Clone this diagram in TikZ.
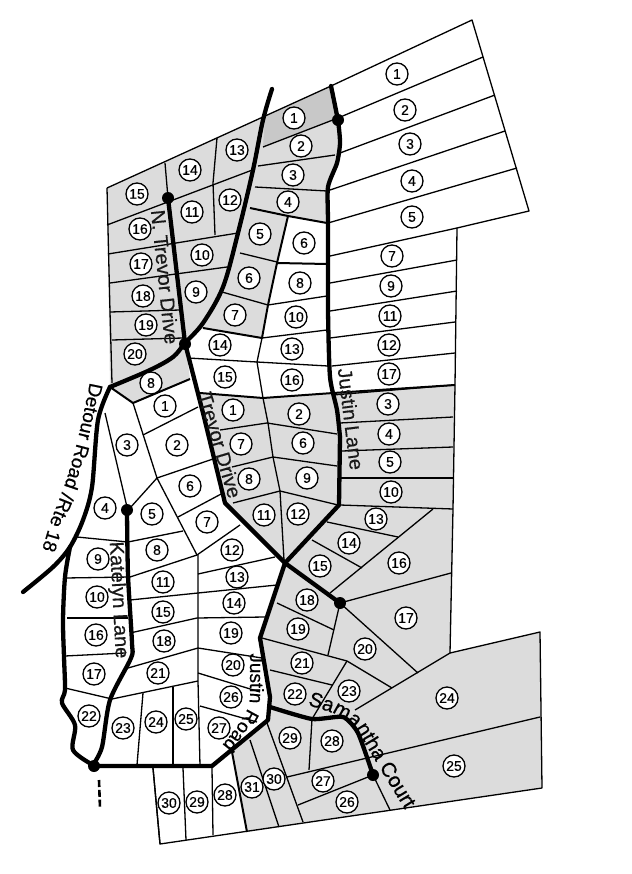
\documentclass[tikz,border=0pt]{standalone}
\usepackage{fontspec}
\setmainfont{Liberation Sans}
\newfontfamily\roadfont[FakeBold=0.5]{Liberation Sans}
\newfontfamily\numfont[FakeBold=0.3]{Liberation Sans}
\usetikzlibrary{decorations.text}
\definecolor{lotgrey}{HTML}{DCDCDC}
\definecolor{lotdark}{HTML}{C8C8C8}
\tikzset{
  lotline/.style={line width=1.3pt,black,line join=round},
  lotheavy/.style={line width=2pt,black,line join=round},
  roadline/.style={line width=4.3pt,black,line join=round,line cap=round},
  roaddot/.style={circle,fill=black,inner sep=0pt,minimum size=12pt},
  lotnum/.style={circle,draw=black,line width=1.3pt,fill=white,inner sep=0pt,minimum size=22pt,font=\numfont\fontsize{14}{15}\selectfont},
  roadname/.style={inner sep=0pt,text=black!90,font=\roadfont\fontsize{20}{22}\selectfont},
  alongroad/.style={decorate,decoration={text along path,text align=center,text={#1}}}
}
\begin{document}
\begin{tikzpicture}[x=1pt,y=-1pt]
\useasboundingbox (0,0) rectangle (631,874);
\fill[white] (0,0) rectangle (631,874);
% grey areas
\fill[lotgrey] (107,188)--(331,86)--(338,118)--(340,143)--(337,163)--(328,187)--(327,223)--(288,216)--(277,263)--(268,305)--(262,338)--(203,328)--(185,343)--(190,379)--(133,403)--(110,387)--cycle;
\fill[lotgrey] (200,393)--(263,398)--(333,393)--(455,385)--(453,509)--(450,653)--(540,632)--(542,788)--(247,832)--(232,752)--(268,718)--(270,697)--(260,640)--(285,563)--(225,503)--cycle;
\fill[lotdark] (265,117)--(331,86)--(338,118)--(263,147)--cycle;
% outer boundary
\draw[lotline] (107,188)--(331,86)--(472,20)--(529,211)--(457,228)--(455,385)--(453,509)--(450,653)--(540,632)--(542,788)--(160,844)--(153,768);
\draw[lotline] (107,188)--(110,312)--(112,383);
% upper east lots
\foreach \a/\b/\c/\d in {338/118/483/57, 340/153/495/95, 330/190/505/131, 328/223/517/168, 330/256/457/228, 330/283/457/260, 330/311/457/291, 330/338/455/322, 332/366/455/353, 333/395/454/385, 340/423/453/417, 342/451/453/447, 340/478/453/478, 340/505/453/509}
  \draw[lotline] (\a,\b)--(\c,\d);
% upper west lots
\foreach \a/\b/\c/\d in {107/225/255/169, 165/163/168/198, 108/254/238/233, 110/283/227/267, 110/312/180/310, 112/340/183/338, 263/147/338/118, 258/166/335/155, 255/187/327/191, 240/253/277/262, 222/292/268/305, 268/305/327/296, 262/338/327/330, 257/362/328/366, 188/358/257/362}
  \draw[lotline] (\a,\b)--(\c,\d);
\draw[lotline] (217,138)--(213,183)--(215,235);
\draw[lotheavy] (250,208)--(288,216)--(327,223);
\draw[lotheavy] (277,263)--(327,264);
\draw[lotheavy] (288,216)--(277,263)--(268,305)--(262,338)--(203,328);
\draw[lotline] (262,338)--(257,362)--(263,398);
\draw[lotheavy] (110,387)--(133,403)--(190,379);
\draw[lotheavy] (200,393)--(263,398)--(333,393)--(455,385);
% centre lots
\foreach \a/\b/\c/\d in {220/430/267/423, 267/423/337/434, 232/467/273/457, 273/457/337/466, 233/503/280/491, 280/491/338/505}
  \draw[lotline] (\a,\b)--(\c,\d);
\draw[lotline] (263,398)--(268,423)--(273,457)--(280,491)--(284,560);
% south east lots
\foreach \a/\b/\c/\d in {327/522/398/537, 312/540/362/568, 433/509/330/593, 340/603/451/573, 340/603/418/673, 277/603/334/630, 340/603/328/655, 270/670/332/685, 355/710/450/653, 287/777/540/717, 298/805/373/775, 373/775/390/810, 267/723/303/822, 250/740/279/827}
  \draw[lotline] (\a,\b)--(\c,\d);
\draw[lotline] (262,638)--(347,661)--(392,688);
\draw[lotline] (347,661)--(312,719)--(309,770);
\draw[lotheavy] (232,752)--(247,832);
% west white lots
\foreach \a/\b/\c/\d in {143/435/198/407, 157/478/213/459, 178/517/223/493, 157/478/130/508, 105/413/127/507, 197/555/240/525, 198/574/275/557, 65/578/130/577, 130/577/197/555, 67/618/128/618, 65/656/125/653, 65/688/112/699, 198/673/260/692, 200/706/257/722, 143/693/137/765, 173/687/173/765, 153/768/160/844, 183/768/186/840, 212/768/213/835}
  \draw[lotline] (\a,\b)--(\c,\d);
\draw[lotline] (133,403)--(157,478)--(197,555);
\draw[lotline] (77,537)--(128,542)--(183,531);
\draw[lotline] (130,600)--(198,593)--(277,585);
\draw[lotline] (130,633)--(197,618)--(265,617);
\draw[lotline] (128,668)--(198,648)--(262,658);
\draw[lotline] (112,699)--(198,681);
\draw[lotline] (198,555)--(198,681)--(200,766);
% roads
\coordinate (nTop) at (272,89);
\coordinate (nJunc) at (185,343);
\coordinate (westJ) at (110,387);
\coordinate (bottomJ) at (93,765);
\coordinate (crossJ) at (285,563);
\coordinate (dashEndA) at (99,780);
\coordinate (dashEndB) at (100,808);
\draw[roadline] plot[smooth,tension=0.55] coordinates {(nTop) (263,120) (253,170) (238,233) (223,287) (203,323) (nJunc) (173,357) (150,370) (westJ)};
\draw[roadline] plot[smooth,tension=0.5] coordinates {(westJ) (98,420) (92,487) (83,520) (70,547) (53,567) (23,592)};
\draw[roadline] plot[smooth,tension=0.5] coordinates {(70,547) (65,577) (63,620) (64,657) (65,690) (62,703) (75,725) (73,750) (bottomJ)};
\draw[roadline] (168,198)--(nJunc)--(203,413)--(225,503)--(crossJ)--(340,603);
\draw[roadline] (bottomJ)--(100,766)--(212,766)--(268,720)--(270,697)--(260,638)--(crossJ);
\draw[roadline] plot[smooth,tension=0.4] coordinates {(331,86) (338,121) (340,143) (337,163) (328,187) (328,223) (328,310) (330,377) (337,410) (340,437)};
\draw[roadline] (340,437)--(339,505)--(crossJ);
\draw[roadline] plot[smooth,tension=0.45] coordinates {(127,510) (128,575) (132,643) (131,658) (110,700) (102,747) (bottomJ)};
\draw[roadline] plot[smooth,tension=0.35] coordinates {(270,707) (312,719) (343,717) (358,733) (373,775)};
\draw[line width=2.6pt,dash pattern=on 7pt off 2.8pt] (dashEndA)--(dashEndB);
\node[roaddot] (dotA) at (338,120) {};
\node[roaddot] (dotB) at (168,198) {};
\node[roaddot] (dotC) at (185,344) {};
\node[roaddot] (dotD) at (127,510) {};
\node[roaddot] (dotE) at (340,603) {};
\node[roaddot] (dotF) at (373,775) {};
\node[roaddot] (dotG) at (94,766) {};
% lot numbers
\foreach \x/\y/\n [count=\i] in {397/74/1,405/110/2,410/144/3,412/181/4,412/217/5,392/256/7,391/286/9,390/316/11,389/345/12,389/374/17,388/404/3,389/434/4,390/462/5,391/492/10,
137/194/15,190/170/14,237/150/13,294/118/1,301/146/2,293/175/3,288/202/4,140/229/16,192/212/11,230/200/12,260/234/5,249/278/6,235/315/7,202/255/10,196/292/9,141/264/17,143/296/18,146/325/19,135/354/20,304/243/6,300/283/8,296/317/10,292/349/13,292/380/16,220/345/14,225/377/15,151/383/8,
165/406/1,177/445/2,127/445/3,190/486/6,105/508/4,152/514/5,207/522/7,157/550/8,98/559/9,232/550/12,163/582/11,237/577/13,97/597/10,234/603/14,163/612/15,96/635/16,231/633/19,164/641/18,233/665/20,
94/674/17,158/673/21,89/716/22,123/728/23,156/722/24,186/719/25,231/697/26,219/728/27,169/803/30,197/802/29,225/795/28,252/787/31,274/779/30,
233/410/1,241/444/7,249/479/8,264/515/11,299/414/2,303/443/6,307/478/9,298/514/12,
376/519/13,349/543/14,320/566/15,399/563/16,406/618/17,307/600/18,298/629/19,365/649/20,
302/663/21,295/694/22,349/691/23,447/698/24,454/766/25,332/741/28,290/738/29,323/781/27,347/802/26}
  \node[lotnum] (lot\i) at (\x,\y) {\n};
% road names
\node[roadname,rotate=-84] (nameNT) at (165,277) {N. Trevor Drive};
\node[roadname,rotate=-73.5] (nameT) at (220,445) {Trevor Drive};
\node[roadname,rotate=-83] (nameJL) at (351,419) {Justin Lane};
\node[roadname,rotate=-87] (nameK) at (118,600) {Katelyn Lane};
\path[alongroad={|\roadfont\fontsize{19}{20}\selectfont|Detour Road /Rte 18}] (90,382) .. controls (84,412) and (78,442) .. (70,468) .. controls (65,486) and (58,503) .. (51,520) .. controls (48,530) and (45,540) .. (42,550);
\path[alongroad={|\roadfont\fontsize{19}{20}\selectfont|Justin Road}] (250,650) -- (250,694) .. controls (250,708) and (246,716) .. (220,748);
\path[alongroad={|\roadfont\fontsize{20.5}{21}\selectfont|Samantha Court}] (304,704) .. controls (318,708) and (328,711) .. (337,715) .. controls (345,719) and (352,725) .. (357,730) .. controls (361,736) and (364,742) .. (367,747) -- (407,813);
\end{tikzpicture}
\end{document}
